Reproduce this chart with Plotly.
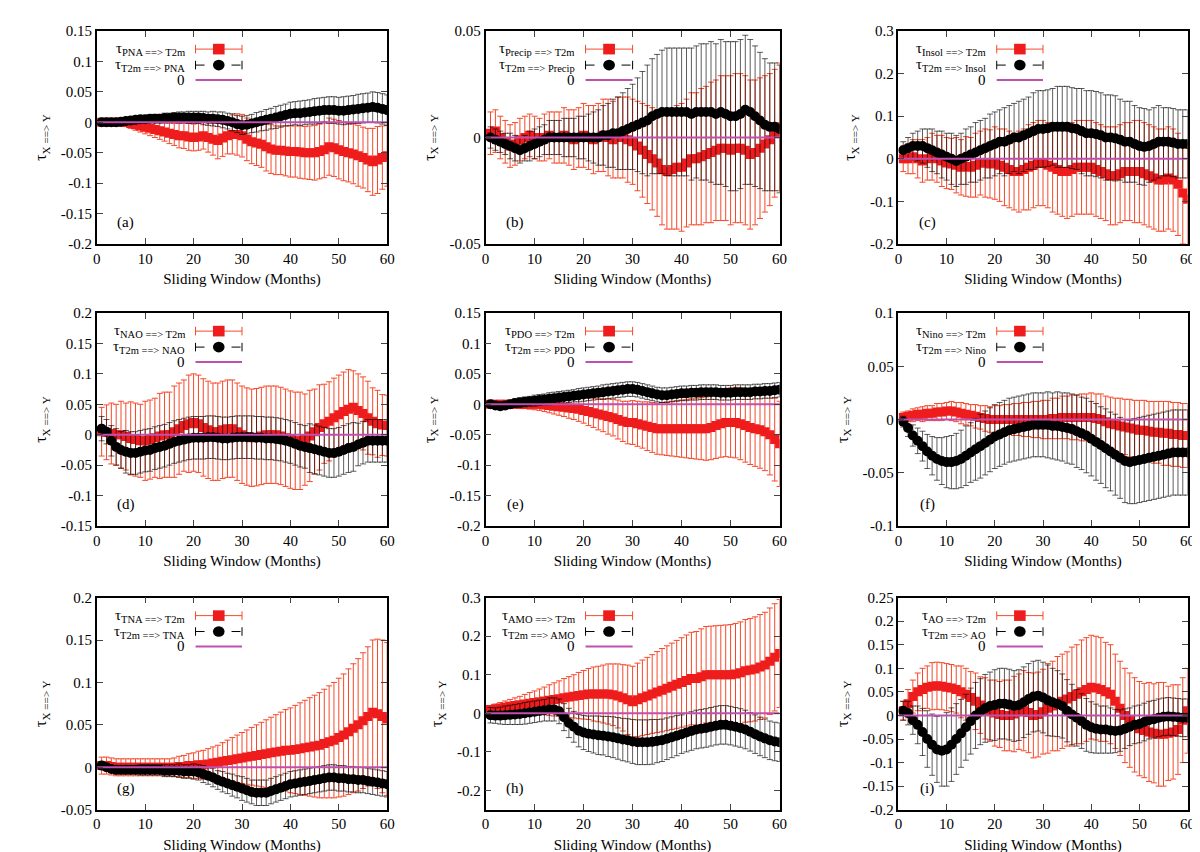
import plotly.graph_objects as go
from plotly.subplots import make_subplots

months = list(range(1, 61))

# (a) PNA
a_fwd = [0,0,0,0,0,0,-.002,-.004,-.006,-.008,-.01,-.012,-.014,-.016,-.018,-.02,-.022,-.022,-.024,-.025,
         -.024,-.022,-.025,-.028,-.03,-.026,-.022,-.02,-.02,-.022,-.028,-.032,-.034,-.036,-.04,-.044,-.046,-.046,-.047,-.048,
         -.048,-.049,-.05,-.05,-.05,-.048,-.045,-.04,-.042,-.045,-.048,-.05,-.052,-.055,-.058,-.062,-.065,-.062,-.058,-.055]
a_fwd_err = [.004,.004,.005,.005,.006,.007,.008,.009,.01,.011,.012,.013,.014,.015,.017,.018,.02,.021,.022,.022,
             .022,.022,.024,.026,.03,.03,.03,.032,.034,.035,.035,.036,.037,.038,.04,.04,.04,.04,.041,.042,
             .042,.043,.043,.044,.045,.045,.046,.047,.047,.048,.048,.048,.049,.05,.05,.052,.055,.055,.052,.05]
a_rev = [0,0,0,0,.001,.002,.003,.004,.005,.005,.006,.006,.006,.007,.007,.008,.008,.008,.008,.008,
         .008,.007,.006,.006,.005,.004,.002,0,-.003,-.005,-.004,-.002,0,.002,.004,.006,.008,.01,.012,.014,
         .015,.015,.016,.017,.018,.019,.02,.02,.02,.019,.019,.02,.021,.022,.023,.024,.025,.024,.022,.02]
a_rev_err = [.002,.002,.003,.003,.004,.004,.005,.005,.006,.006,.006,.007,.007,.008,.008,.008,.009,.009,.01,.01,
             .01,.011,.011,.012,.012,.013,.013,.014,.014,.015,.015,.015,.016,.016,.017,.017,.018,.018,.018,.019,
             .019,.02,.02,.02,.021,.021,.021,.022,.022,.022,.023,.023,.023,.024,.024,.024,.025,.025,.025,.025]

# (b) Precip
b_fwd = [.002,.003,0,-.002,-.004,-.003,-.001,0,.001,0,-.001,0,.001,0,0,.001,0,-.001,0,.001,
         0,-.001,0,.001,0,-.001,0,0,-.001,-.002,-.004,-.006,-.008,-.01,-.012,-.015,-.016,-.015,-.014,-.014,
         -.012,-.01,-.01,-.009,-.008,-.007,-.006,-.005,-.005,-.006,-.005,-.005,-.006,-.008,-.007,-.005,-.003,-.001,.002,.005]
b_fwd_err = [.01,.01,.01,.01,.01,.01,.01,.01,.01,.01,.01,.011,.011,.012,.012,.013,.013,.014,.014,.015,
             .015,.016,.016,.017,.018,.018,.019,.019,.02,.02,.021,.022,.023,.024,.025,.026,.027,.028,.029,.03,
             .03,.031,.031,.032,.032,.033,.033,.034,.034,.035,.035,.035,.035,.035,.034,.033,.032,.031,.03,.03]
b_rev = [0,-.001,-.002,-.003,-.004,-.005,-.006,-.005,-.004,-.003,-.002,-.001,0,0,0,0,0,0,0,0,
         0,0,0,.001,.001,.002,.002,.003,.004,.005,.006,.007,.008,.01,.011,.012,.012,.012,.012,.012,
         .012,.011,.012,.012,.012,.012,.011,.012,.011,.01,.01,.011,.013,.012,.01,.008,.006,.005,.005,.004]
b_rev_err = [.005,.005,.005,.005,.006,.006,.006,.006,.007,.007,.007,.007,.008,.008,.008,.009,.009,.009,.01,.01,
             .011,.012,.013,.014,.015,.016,.017,.018,.019,.02,.022,.024,.026,.027,.028,.029,.03,.03,.03,.03,
             .03,.031,.031,.032,.032,.033,.033,.034,.034,.035,.035,.035,.035,.034,.033,.032,.031,.03,.03,.03]

# (c) Insol
c_fwd = [0,0,.005,0,-.005,0,.005,0,-.005,-.01,-.012,-.015,-.02,-.018,-.02,-.015,-.01,-.01,-.012,-.01,
         -.015,-.02,-.025,-.03,-.03,-.025,-.02,-.015,-.01,-.01,-.015,-.02,-.025,-.03,-.03,-.025,-.02,-.02,-.02,-.02,
         -.025,-.03,-.035,-.04,-.04,-.035,-.03,-.03,-.03,-.03,-.035,-.04,-.045,-.05,-.05,-.045,-.05,-.06,-.08,-.095]
c_fwd_err = [.03,.035,.04,.045,.05,.05,.055,.055,.06,.06,.06,.065,.065,.07,.07,.075,.075,.08,.08,.085,
             .085,.09,.09,.09,.095,.095,.1,.1,.1,.1,.1,.105,.105,.105,.11,.11,.11,.11,.11,.11,
             .11,.11,.11,.115,.115,.115,.115,.115,.12,.12,.12,.12,.12,.12,.12,.12,.12,.12,.12,.12]
c_rev = [.02,.025,.03,.03,.03,.025,.02,.015,.01,.005,0,-.005,0,.005,.01,.015,.02,.025,.03,.035,
         .04,.04,.045,.05,.05,.055,.06,.065,.07,.07,.072,.075,.075,.075,.075,.072,.07,.065,.06,.06,
         .058,.055,.05,.05,.048,.045,.04,.04,.035,.03,.028,.03,.035,.04,.04,.04,.038,.035,.035,.035]
c_rev_err = [.02,.025,.03,.035,.04,.045,.05,.05,.055,.055,.06,.06,.06,.065,.065,.07,.07,.07,.075,.075,
             .075,.08,.08,.08,.085,.085,.085,.09,.09,.09,.09,.09,.095,.095,.095,.095,.095,.1,.1,.1,
             .1,.1,.1,.1,.1,.095,.095,.095,.09,.09,.09,.085,.085,.085,.08,.08,.08,.08,.08,.08]

# (d) NAO
d_fwd = [.005,.004,.002,0,0,-.003,-.006,-.008,-.01,-.01,-.008,-.005,-.002,0,0,.005,.01,.015,.018,.02,
         .018,.012,.008,.005,.005,.008,.01,.01,.005,0,-.003,-.005,-.004,-.002,0,0,0,-.002,-.005,-.008,
         -.01,-.01,-.008,-.002,.005,.012,.018,.022,.028,.033,.038,.042,.045,.04,.035,.028,.022,.018,.016,.015]
d_fwd_err = [.04,.045,.05,.05,.055,.055,.06,.06,.06,.065,.065,.065,.07,.07,.07,.075,.075,.075,.08,.08,
             .08,.08,.08,.08,.08,.08,.08,.08,.08,.08,.08,.08,.08,.08,.08,.08,.08,.08,.08,.08,
             .08,.08,.075,.075,.07,.07,.065,.065,.065,.065,.065,.065,.06,.06,.06,.06,.055,.055,.05,.05]
d_rev = [.01,.005,-.01,-.02,-.025,-.028,-.03,-.03,-.028,-.026,-.025,-.022,-.02,-.018,-.015,-.012,-.01,-.008,-.006,-.005,
         -.005,-.005,-.004,-.004,-.005,-.006,-.006,-.005,-.004,-.004,-.004,-.004,-.005,-.005,-.006,-.006,-.007,-.008,-.01,-.012,
         -.015,-.018,-.02,-.022,-.024,-.026,-.028,-.03,-.03,-.028,-.025,-.022,-.02,-.016,-.013,-.01,-.01,-.01,-.01,-.01]
d_rev_err = [.02,.02,.025,.03,.03,.035,.035,.035,.035,.035,.035,.035,.035,.035,.035,.035,.035,.035,.035,.035,
             .035,.035,.035,.035,.035,.035,.035,.035,.035,.035,.035,.035,.035,.035,.035,.035,.035,.035,.035,.035,
             .035,.035,.035,.04,.04,.04,.04,.04,.04,.04,.04,.04,.04,.035,.035,.035,.035,.035,.035,.035]

# (e) PDO
e_fwd = [0,0,0,0,0,0,0,0,0,0,0,-.001,-.002,-.003,-.004,-.005,-.006,-.007,-.008,-.01,
         -.012,-.014,-.016,-.018,-.02,-.022,-.025,-.028,-.03,-.03,-.032,-.034,-.036,-.038,-.04,-.04,-.04,-.04,-.04,-.04,
         -.04,-.04,-.04,-.04,-.04,-.038,-.035,-.032,-.03,-.03,-.03,-.032,-.035,-.038,-.04,-.042,-.045,-.05,-.058,-.065]
e_fwd_err = [.004,.004,.005,.005,.006,.006,.007,.007,.008,.009,.01,.011,.012,.013,.014,.015,.017,.018,.02,.021,
             .023,.024,.026,.027,.029,.03,.032,.033,.035,.036,.037,.038,.04,.041,.042,.043,.044,.045,.046,.047,
             .048,.049,.05,.051,.052,.053,.054,.055,.056,.057,.058,.059,.06,.061,.062,.063,.064,.066,.068,.07]
e_rev = [0,-.002,-.003,-.002,0,.002,.003,.004,.005,.006,.007,.008,.009,.01,.011,.012,.013,.014,.015,.016,
         .017,.018,.019,.02,.021,.022,.023,.024,.025,.025,.024,.022,.02,.018,.016,.015,.015,.016,.017,.018,
         .018,.019,.019,.02,.02,.02,.02,.019,.019,.019,.02,.02,.02,.02,.021,.021,.022,.022,.023,.024]
e_rev_err = [.005,.005,.006,.006,.007,.007,.008,.008,.008,.009,.009,.009,.01,.01,.01,.01,.01,.01,.011,.011,
             .011,.011,.011,.012,.012,.012,.012,.012,.012,.012,.012,.012,.012,.012,.012,.012,.012,.012,.012,.012,
             .012,.012,.012,.012,.012,.012,.012,.012,.012,.012,.012,.012,.012,.012,.012,.012,.012,.012,.012,.012]

# (f) Nino
f_fwd = [.002,.003,.004,.005,.005,.006,.006,.007,.007,.008,.008,.007,.006,.005,.004,.003,.002,.001,0,0,
         0,0,0,0,0,0,0,0,0,0,0,.001,.001,.002,.002,.002,.002,.002,.002,.002,
         .001,0,-.002,-.004,-.005,-.006,-.007,-.008,-.009,-.01,-.01,-.011,-.012,-.012,-.013,-.013,-.014,-.014,-.015,-.015]
f_fwd_err = [.005,.005,.006,.006,.007,.007,.007,.008,.008,.008,.009,.009,.01,.01,.01,.011,.011,.012,.012,.013,
             .013,.014,.014,.015,.015,.016,.016,.017,.017,.018,.018,.019,.019,.02,.02,.021,.021,.022,.022,.023,
             .023,.024,.024,.025,.025,.026,.026,.027,.027,.028,.028,.028,.029,.029,.03,.03,.03,.03,.03,.03]
f_rev = [-.002,-.008,-.015,-.02,-.025,-.03,-.034,-.037,-.039,-.04,-.04,-.039,-.037,-.034,-.031,-.028,-.025,-.022,-.019,-.016,
         -.014,-.012,-.01,-.009,-.008,-.007,-.006,-.005,-.005,-.005,-.005,-.006,-.006,-.007,-.008,-.009,-.011,-.013,-.015,-.018,
         -.021,-.024,-.027,-.03,-.033,-.036,-.039,-.04,-.039,-.038,-.037,-.036,-.035,-.034,-.033,-.032,-.031,-.031,-.031,-.031]
f_rev_err = [.005,.008,.01,.012,.014,.016,.018,.02,.022,.024,.025,.026,.027,.028,.028,.029,.03,.03,.03,.03,
             .03,.03,.03,.03,.03,.03,.03,.03,.03,.03,.031,.031,.032,.032,.033,.033,.034,.034,.035,.035,
             .036,.036,.037,.037,.038,.038,.039,.039,.04,.04,.04,.04,.04,.04,.04,.04,.04,.04,.04,.04]

# (g) TNA
g_fwd = [.002,.002,.001,0,0,0,0,0,0,0,0,0,0,0,0,0,.001,.001,.002,.002,
         .003,.003,.004,.005,.006,.007,.008,.009,.01,.011,.012,.013,.014,.015,.016,.017,.018,.019,.02,.02,
         .021,.022,.023,.024,.025,.026,.028,.03,.032,.035,.038,.042,.046,.05,.055,.06,.065,.063,.06,.057]
g_fwd_err = [.01,.01,.01,.01,.01,.01,.01,.01,.01,.01,.01,.01,.01,.01,.01,.011,.012,.013,.014,.015,
             .016,.017,.018,.019,.02,.022,.024,.026,.028,.03,.032,.034,.036,.038,.04,.042,.044,.046,.048,.05,
             .052,.054,.056,.058,.06,.062,.064,.066,.068,.07,.072,.074,.076,.078,.08,.082,.085,.088,.09,.09]
g_rev = [.002,0,-.002,-.003,-.003,-.003,-.003,-.003,-.003,-.003,-.003,-.003,-.003,-.004,-.004,-.004,-.004,-.005,-.005,-.005,
         -.006,-.008,-.01,-.012,-.015,-.017,-.019,-.021,-.023,-.025,-.027,-.029,-.03,-.03,-.03,-.028,-.026,-.024,-.022,-.02,
         -.019,-.018,-.017,-.016,-.015,-.014,-.013,-.012,-.012,-.013,-.013,-.014,-.014,-.015,-.015,-.016,-.017,-.018,-.019,-.02]
g_rev_err = [.004,.004,.004,.005,.005,.005,.005,.005,.006,.006,.006,.006,.006,.007,.007,.007,.008,.008,.008,.009,
             .009,.01,.01,.011,.011,.012,.012,.013,.013,.014,.014,.014,.015,.015,.015,.015,.015,.015,.015,.015,
             .015,.015,.015,.015,.015,.015,.015,.015,.015,.015,.015,.015,.015,.015,.015,.015,.015,.015,.015,.015]

# (h) AMO
h_fwd = [.01,.012,.014,.016,.018,.02,.022,.024,.026,.028,.03,.032,.034,.036,.038,.04,.042,.044,.046,.048,
         .05,.05,.05,.05,.05,.048,.045,.04,.035,.03,.035,.04,.045,.05,.055,.06,.065,.07,.075,.08,
         .085,.09,.09,.095,.1,.1,.1,.1,.1,.1,.102,.105,.11,.112,.115,.12,.125,.135,.145,.155]
h_fwd_err = [.01,.012,.014,.016,.018,.02,.022,.025,.028,.03,.033,.036,.04,.043,.046,.05,.053,.056,.06,.063,
             .066,.07,.072,.075,.078,.08,.083,.086,.09,.092,.095,.098,.1,.102,.105,.108,.11,.112,.114,.116,
             .118,.12,.122,.124,.125,.126,.127,.128,.129,.13,.131,.132,.133,.134,.135,.136,.137,.138,.139,.14]
h_rev = [-.005,-.006,-.006,-.005,-.004,-.003,-.002,0,.002,.004,.006,.008,.01,.01,.005,-.01,-.025,-.035,-.045,-.05,
         -.053,-.055,-.057,-.058,-.06,-.062,-.065,-.068,-.07,-.073,-.075,-.075,-.075,-.074,-.072,-.07,-.066,-.062,-.058,-.054,
         -.05,-.046,-.042,-.04,-.038,-.035,-.032,-.03,-.03,-.032,-.035,-.038,-.042,-.048,-.054,-.06,-.065,-.07,-.073,-.075]
h_rev_err = [.02,.02,.022,.024,.025,.026,.027,.028,.028,.028,.028,.028,.03,.03,.032,.035,.038,.04,.042,.044,
             .046,.048,.05,.05,.052,.053,.054,.055,.056,.057,.058,.058,.058,.058,.056,.055,.054,.053,.052,.05,
             .05,.05,.05,.05,.05,.05,.05,.05,.05,.05,.05,.05,.05,.05,.05,.05,.05,.05,.05,.05]

# (i) AO
i_fwd = [.01,.025,.04,.05,.055,.06,.062,.063,.062,.06,.058,.055,.05,.045,.038,.03,.022,.015,.01,.005,
         .002,0,0,.003,.008,.01,.006,0,.002,.008,.015,.02,.025,.03,.035,.04,.045,.05,.055,.06,
         .058,.055,.05,.045,.03,.015,0,-.01,-.02,-.028,-.032,-.035,-.038,-.04,-.04,-.038,-.035,-.03,-.01,.01]
i_fwd_err = [.02,.03,.035,.04,.045,.045,.05,.05,.05,.05,.05,.05,.055,.055,.055,.06,.06,.065,.065,.07,
             .07,.075,.075,.08,.08,.085,.085,.09,.09,.09,.095,.095,.1,.1,.1,.105,.105,.11,.11,.11,
             .11,.11,.105,.105,.1,.1,.1,.1,.1,.1,.1,.105,.105,.11,.11,.1,.1,.095,.09,.09]
i_rev = [.01,.005,-.01,-.02,-.035,-.05,-.062,-.072,-.075,-.072,-.062,-.05,-.038,-.025,-.012,0,.008,.015,.02,.022,
         .025,.025,.023,.02,.022,.028,.035,.04,.042,.038,.032,.028,.025,.02,.01,.002,-.005,-.012,-.02,-.025,
         -.028,-.03,-.03,-.032,-.033,-.032,-.028,-.024,-.02,-.018,-.014,-.01,-.008,-.005,-.003,-.002,-.003,-.004,-.005,-.005]
i_rev_err = [.02,.025,.03,.04,.05,.06,.065,.07,.075,.078,.078,.075,.072,.07,.07,.07,.07,.072,.072,.075,
             .075,.075,.075,.075,.075,.075,.075,.075,.075,.075,.075,.072,.07,.068,.066,.064,.06,.058,.056,.054,
             .052,.05,.05,.048,.046,.044,.042,.04,.04,.04,.04,.04,.04,.04,.04,.04,.04,.04,.04,.04]

indices = ["PNA", "Precip", "Insol", "NAO", "PDO", "Nino", "TNA", "AMO", "AO"]
tags = ["(a)", "(b)", "(c)", "(d)", "(e)", "(f)", "(g)", "(h)", "(i)"]
fwd = [a_fwd, b_fwd, c_fwd, d_fwd, e_fwd, f_fwd, g_fwd, h_fwd, i_fwd]
fwd_err = [a_fwd_err, b_fwd_err, c_fwd_err, d_fwd_err, e_fwd_err, f_fwd_err, g_fwd_err, h_fwd_err, i_fwd_err]
rev = [a_rev, b_rev, c_rev, d_rev, e_rev, f_rev, g_rev, h_rev, i_rev]
rev_err = [a_rev_err, b_rev_err, c_rev_err, d_rev_err, e_rev_err, f_rev_err, g_rev_err, h_rev_err, i_rev_err]
y_ticks = [
    [-0.2, -0.15, -0.1, -0.05, 0, 0.05, 0.1, 0.15],
    [-0.05, 0, 0.05],
    [-0.2, -0.1, 0, 0.1, 0.2, 0.3],
    [-0.15, -0.1, -0.05, 0, 0.05, 0.1, 0.15, 0.2],
    [-0.2, -0.15, -0.1, -0.05, 0, 0.05, 0.1, 0.15],
    [-0.1, -0.05, 0, 0.05, 0.1],
    [-0.05, 0, 0.05, 0.1, 0.15, 0.2],
    [-0.2, -0.1, 0, 0.1, 0.2, 0.3],
    [-0.2, -0.15, -0.1, -0.05, 0, 0.05, 0.1, 0.15, 0.2, 0.25],
]
y_ranges = [(-0.2, 0.15), (-0.05, 0.05), (-0.2, 0.3), (-0.15, 0.2), (-0.2, 0.15),
            (-0.1, 0.1), (-0.05, 0.2), (-0.25, 0.3), (-0.2, 0.25)]

RED = "#f5492a"
RED_MK = "#ee1c1c"
MAG = "#c050b0"
FONT = "Liberation Serif"

fig = make_subplots(rows=3, cols=3)
xdoms = [(0.074, 0.316), (0.398, 0.643), (0.742, 0.983)]
ydoms = [(0.723, 0.973), (0.392, 0.642), (0.059, 0.308)]

for k in range(9):
    r, c = k // 3 + 1, k % 3 + 1
    fig.add_trace(go.Scatter(x=months, y=fwd[k], mode="markers",
                             marker=dict(symbol="square", size=9, color=RED_MK),
                             error_y=dict(type="data", array=fwd_err[k], color=RED, thickness=1, width=3),
                             showlegend=False), row=r, col=c)
    fig.add_trace(go.Scatter(x=months, y=rev[k], mode="markers",
                             marker=dict(symbol="circle", size=10, color="black"),
                             error_y=dict(type="data", array=rev_err[k], color="rgba(0,0,0,0.8)",
                                          thickness=0.8, width=3),
                             showlegend=False), row=r, col=c)
    fig.add_trace(go.Scatter(x=[0, 60], y=[0, 0], mode="lines", line=dict(color=MAG, width=2),
                             showlegend=False, hoverinfo="skip"), row=r, col=c)
    ax = "" if k == 0 else str(k + 1)
    xa = "xaxis" + ax
    ya = "yaxis" + ax
    lo, hi = y_ranges[k]
    fig.layout[xa].update(domain=xdoms[c - 1], range=[0, 60], dtick=10, ticks="inside", ticklen=6,
                          mirror="allticks", showline=True, linecolor="black", linewidth=1.5,
                          showgrid=False, zeroline=False, automargin=False,
                          title=dict(text="Sliding Window (Months)", font=dict(size=15), standoff=8))
    fig.layout[ya].update(domain=ydoms[r - 1], range=[lo, hi], tickmode="array",
                          tickvals=y_ticks[k], ticktext=["%g" % v for v in y_ticks[k]],
                          ticks="inside", ticklen=6, automargin=False,
                          mirror="allticks", showline=True, linecolor="black", linewidth=1.5,
                          showgrid=False, zeroline=False,
                          title=dict(text="τ<sub>X ==> Y</sub>", font=dict(size=16), standoff=10))
    xr, yr = "x" + ax + " domain", "y" + ax + " domain"
    name = indices[k]
    labels = [f"τ<sub>{name} ==> T2m</sub>", f"τ<sub>T2m ==> {name}</sub>", "0"]
    for j, (lab, yy) in enumerate(zip(labels, [0.915, 0.84, 0.77])):
        fig.add_annotation(x=0.31, y=yy, xref=xr, yref=yr, text=lab, showarrow=False,
                           xanchor="right", yanchor="middle", font=dict(size=15, family=FONT))
    # legend samples
    x0s, x1s = 0.34, 0.50
    fig.add_shape(type="line", x0=x0s, x1=x1s, y0=0.915, y1=0.915, xref=xr, yref=yr, line=dict(color=RED, width=1))
    for xv in (x0s, x1s):
        fig.add_shape(type="line", x0=xv, x1=xv, y0=0.895, y1=0.935, xref=xr, yref=yr, line=dict(color=RED, width=1))
    fig.add_shape(type="rect", x0=0.4, x1=0.44, y0=0.89, y1=0.94, xref=xr, yref=yr,
                  fillcolor=RED_MK, line=dict(width=0))
    fig.add_shape(type="line", x0=x0s, x1=x1s, y0=0.84, y1=0.84, xref=xr, yref=yr,
                  line=dict(color="black", width=1, dash="dash"))
    for xv in (x0s, x1s):
        fig.add_shape(type="line", x0=xv, x1=xv, y0=0.82, y1=0.86, xref=xr, yref=yr, line=dict(color="black", width=1))
    fig.add_shape(type="circle", x0=0.4, x1=0.44, y0=0.815, y1=0.865, xref=xr, yref=yr,
                  fillcolor="black", line=dict(width=0))
    fig.add_shape(type="line", x0=x0s, x1=x1s, y0=0.77, y1=0.77, xref=xr, yref=yr, line=dict(color=MAG, width=2))
    fig.add_annotation(x=0.1, y=0.05, xref=xr, yref=yr, text=tags[k], showarrow=False,
                       xanchor="center", yanchor="bottom", font=dict(size=15, family=FONT))

fig.update_layout(width=1200, height=852, plot_bgcolor="white", paper_bgcolor="white",
                  margin=dict(l=0, r=0, t=0, b=0),
                  font=dict(family=FONT, size=15, color="black"))
fig.write_html("out.html")
